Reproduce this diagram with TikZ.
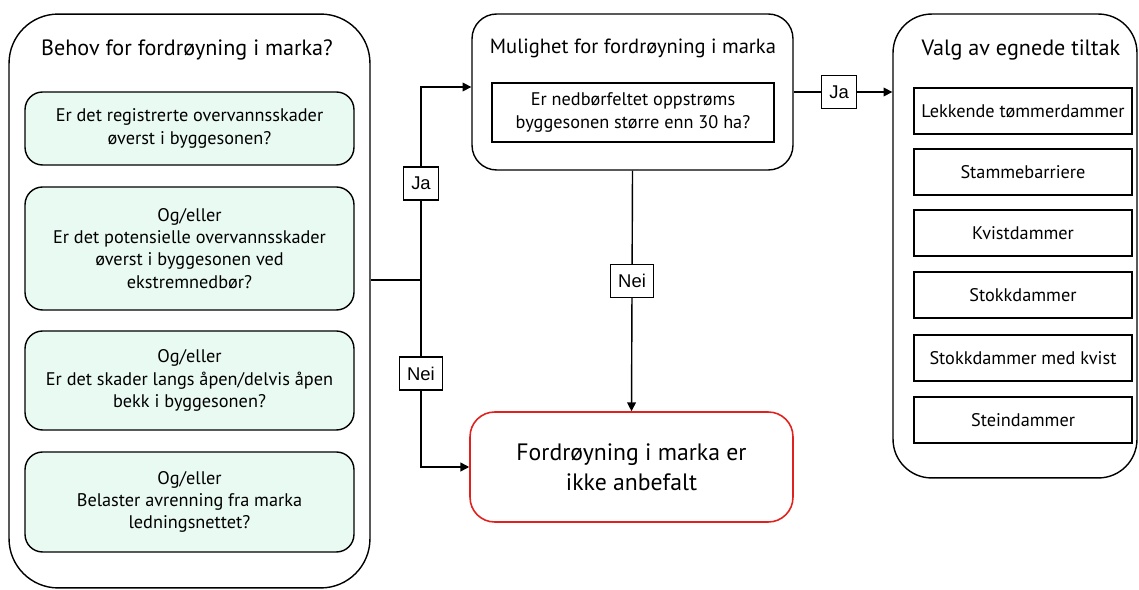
\documentclass[tikz,border=0pt]{standalone}
\usepackage{fontspec}
\setmainfont{PT Sans}
\newfontfamily\labelfont{Liberation Sans}
\usetikzlibrary{arrows.meta}

\definecolor{mintfill}{HTML}{E8FAF2}
\definecolor{stopred}{HTML}{E0211D}

\tikzset{
    bigbox/.style={draw=black, line width=0.8pt, rounded corners=22pt},
    mintbox/.style={draw=black, line width=0.8pt, fill=mintfill, rounded corners=10pt,
        align=center, font=\fontsize{10.4}{12.6}\selectfont},
    plainbox/.style={draw=black, line width=0.8pt, fill=white, align=center,
        font=\fontsize{10.4}{12.6}\selectfont},
    headline/.style={font=\fontsize{12.6}{15}\selectfont},
    lbl/.style={draw=black, fill=white, line width=0.6pt, inner xsep=4.5pt,
        minimum height=0.66cm, font=\labelfont\fontsize{10.5}{12}\selectfont},
    flow/.style={line width=0.8pt, -{Triangle[length=5pt,width=5pt]}},
}

\begin{document}
\begin{tikzpicture}[x=0.02cm, y=-0.02cm]
    \useasboundingbox (0,0) rectangle (1139,590);

    % behov
    \node[bigbox, rounded corners=28pt, minimum width=7.22cm, minimum height=11.48cm] (behov) at (189.5,301) {};
    \node[headline] (behovtitle) at (187,50) {Behov for fordrøyning i marka?};
    \node[mintbox, minimum width=6.58cm, minimum height=1.46cm] (skade1) at (189.5,128.5)
        {Er det registrerte overvannsskader\\øverst i byggesonen?};
    \node[mintbox, minimum width=6.58cm, minimum height=2.46cm] (skade2) at (189.5,248.5)
        {Og/eller\\Er det potensielle overvannsskader\\øverst i byggesonen ved\\ekstremnedbør?};
    \node[mintbox, minimum width=6.58cm, minimum height=1.98cm] (skade3) at (189.5,380.5)
        {Og/eller\\Er det skader langs åpen/delvis åpen\\bekk i byggesonen?};
    \node[mintbox, minimum width=6.58cm, minimum height=2.0cm] (skade4) at (189.5,502)
        {Og/eller\\Belaster avrenning fra marka\\ledningsnettet?};

    % mulighet
    \node[bigbox, rounded corners=14pt, minimum width=6.42cm, minimum height=3.12cm] (mulighet) at (632.5,92) {};
    \node[headline, font=\fontsize{11.7}{14}\selectfont] (mulighettitle) at (633,48) {Mulighet for fordrøyning i marka};
    \node[plainbox, minimum width=5.64cm, minimum height=1.18cm] (areal) at (633,112.5)
        {Er nedbørfeltet oppstrøms\\byggesonen større enn 30 ha?};

    % ikke anbefalt
    \node[draw=stopred, line width=0.9pt, rounded corners=14pt, minimum width=6.46cm, minimum height=2.2cm,
        align=center, font=\fontsize{13.5}{17}\selectfont] (anbefalt) at (631.5,467)
        {Fordrøyning i marka er\\ikke anbefalt};

    % valg
    \node[bigbox, minimum width=4.88cm, minimum height=9.28cm] (valg) at (1015,246) {};
    \node[headline] (valgtitle) at (1021,50) {Valg av egnede tiltak};
    \foreach \tiltak/\ypos [count=\i] in {Lekkende tømmerdammer/111, Stammebarriere/172,
            Kvistdammer/233, Stokkdammer/295, Stokkdammer med kvist/358, Steindammer/420}
        \node[plainbox, minimum width=4.36cm, minimum height=0.92cm] (tiltak\i) at (1023,\ypos) {\tiltak};

    % connectors
    \coordinate (jn) at (421,280);
    \coordinate (jaknekk) at (421,87);
    \draw[line width=0.8pt] (jn -| behov.east) -- (jn);
    \draw[flow] (jn) -- node[lbl] {Ja} (jaknekk) -- (jaknekk -| mulighet.west);
    \draw[flow] (jn) -- node[lbl] {Nei} (jn |- anbefalt.west) -- (anbefalt.west);
    \draw[flow] (mulighet.south) -- node[lbl, pos=0.46] {Nei} (anbefalt.north);
    \draw[flow] (mulighet.east) -- node[lbl, pos=0.46] {Ja} (mulighet.east -| valg.west);
\end{tikzpicture}
\end{document}
